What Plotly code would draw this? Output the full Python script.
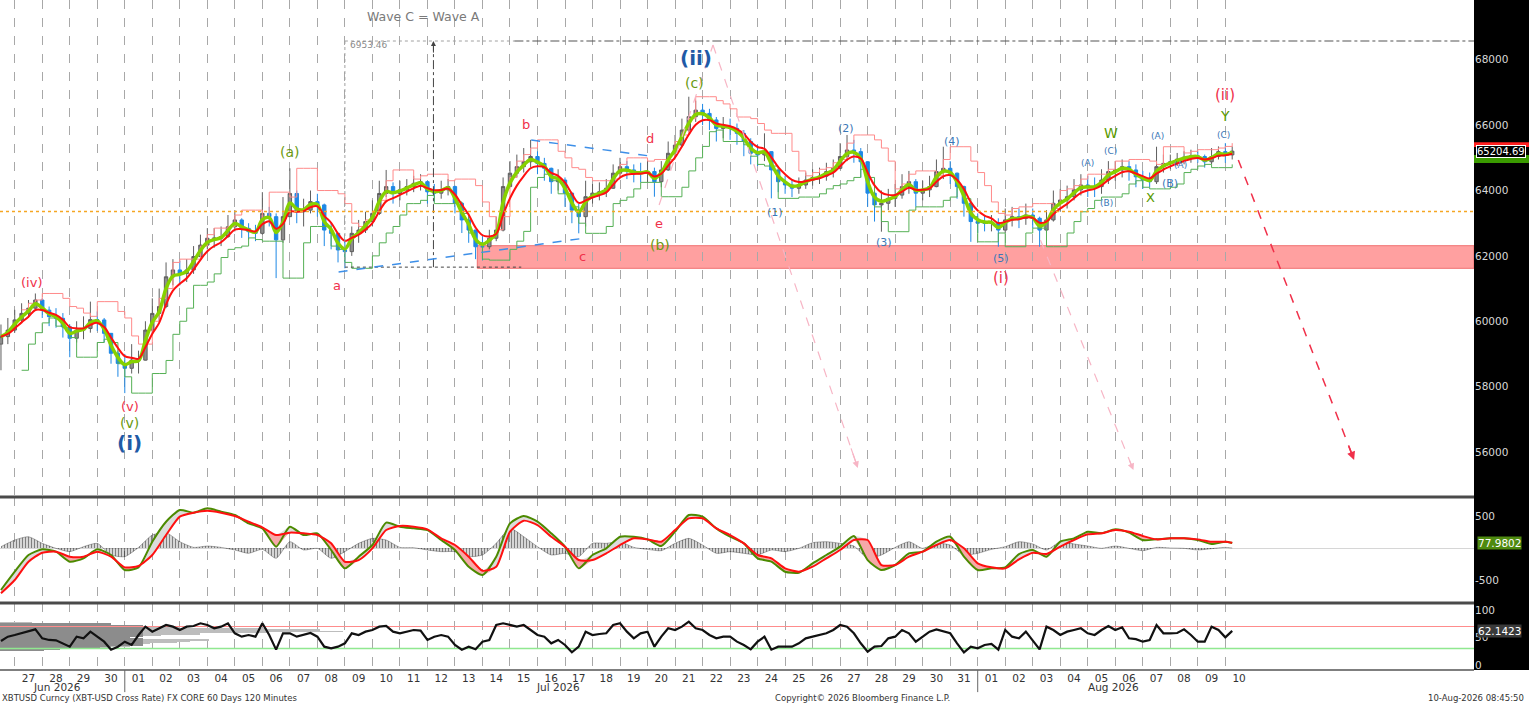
import numpy as np
import pandas as pd
import plotly.graph_objects as go
from plotly.subplots import make_subplots

FONT = "DejaVu Sans"

# ---------------- data ----------------
# price bars sampled every 6 hours (the source uses 120-minute bars)
bar_start = "2026-06-26 12:00"
first_open = 59300
close = [
    59530, 59730,
    60040, 60240, 60400, 60650,
    60340, 60140, 60090, 59830,
    59480, 59730, 59780, 60050,
    60040, 59630, 59020, 58710,
    58560, 58810, 58810, 59730,
    60240, 60450, 61360, 61570,
    61460, 61570, 61980, 62330,
    62540, 62540, 62590, 62890,
    63100, 62840, 62740, 62690,
    63300, 63200, 62490, 63200,
    63910, 63350, 63400, 63660,
    63560, 62790, 62690, 62180,
    62130, 62690, 62790, 63050,
    63300, 63910, 64120, 63910,
    64020, 64120, 64220, 64270,
    63960, 63920, 64020, 64120,
    63610, 63100, 62790, 62280,
    62280, 62540, 62790, 64120,
    64530, 64730, 64880, 65040,
    64830, 64680, 64270, 64320,
    63920, 63400, 63200, 63810,
    63920, 63960, 64070, 64530,
    64730, 64630, 64530, 64530,
    64580, 64270, 64630, 65140,
    65390, 65850, 66260, 66460,
    66360, 66160, 65900, 65950,
    65900, 65750, 65500, 65140,
    65090, 65190, 64630, 64270,
    64170, 64070, 64170, 64320,
    64400, 64440, 64580, 64680,
    65040, 65240, 65190, 64880,
    63920, 63560, 63610, 63760,
    63860, 64120, 64270, 63920,
    64020, 64120, 64580, 64680,
    64530, 64120, 63610, 63050,
    63000, 63000, 63020, 62790,
    63100, 63200, 63150, 63250,
    63150, 62790, 63100, 63610,
    63710, 63810, 64020, 64170,
    64120, 64120, 64320, 64580,
    64630, 64730, 64630, 64420,
    64320, 64270, 64730, 64830,
    64880, 64960, 65020, 65060,
    65040, 64880, 65040, 65190,
    65090, 65205,
]
high = [
    59900, 60100,
    60350, 60550, 60650, 60850,
    60700, 60450, 60400, 60250,
    59900, 60000, 60150, 60600,
    60300, 60100, 59550, 59100,
    59000, 59300, 59100, 60000,
    60700, 61000, 61800, 61900,
    61850, 61900, 62300, 62650,
    62850, 62850, 62900, 63250,
    63400, 63150, 63000, 62950,
    63950, 63500, 63300, 63800,
    64680, 64000, 63750, 64000,
    63900, 63600, 63000, 62700,
    62500, 62900, 63100, 63350,
    63700, 64300, 64630, 64250,
    64300, 64350, 64450, 64500,
    64300, 64200, 64300, 64350,
    64150, 63650, 63200, 62800,
    62600, 62800, 63200, 64400,
    64900, 65100, 65300, 65550,
    65200, 65000, 64700, 64650,
    64400, 63900, 63600, 64300,
    64200, 64250, 64350, 64800,
    65000, 64900, 64800, 64850,
    64950, 64700, 64900, 65500,
    65700, 66200, 66870, 66750,
    66650, 66500, 66250, 66250,
    66200, 66050, 65850, 65600,
    65400, 65750, 65200, 64600,
    64450, 64350, 64400, 64550,
    64650, 64700, 64850, 64950,
    65450, 65700, 65550, 65300,
    64900, 63950, 64000, 64050,
    64200, 64500, 64600, 64350,
    64300, 64450, 64950, 65340,
    64900, 64550, 64150, 63650,
    63300, 63250, 63250, 63150,
    63450, 63500, 63450, 63600,
    63450, 63200, 63400, 64000,
    64050, 64150, 64350, 64500,
    64450, 64400, 64650, 64900,
    64900, 64950, 64900, 64800,
    64600, 64550, 65340, 65100,
    65100, 65150, 65200, 65250,
    65200, 65100, 65300, 65350,
    65450, 65350,
]
low = [
    58500, 59300,
    59650, 59950, 60100, 60350,
    60100, 59850, 59800, 59500,
    58900, 59350, 59450, 59650,
    59700, 59350, 58700, 58300,
    57800, 58400, 58400, 58800,
    59600, 60000, 60400, 61100,
    61100, 61200, 61450, 61950,
    62200, 62250, 62300, 62550,
    62750, 62550, 62500, 62450,
    62650, 62900, 61320, 62400,
    63200, 63000, 62900, 63300,
    63200, 62300, 62200, 61800,
    61620, 62000, 62400, 62700,
    62900, 63250, 63800, 63600,
    63700, 63850, 63950, 64000,
    63600, 63650, 63750, 63850,
    63300, 62700, 62400, 61900,
    61870, 62200, 62450, 62750,
    64100, 64400, 64550, 64700,
    64500, 64300, 63900, 64000,
    63500, 63000, 62690, 62900,
    63600, 63700, 63800, 64050,
    64400, 64350, 64250, 64250,
    64250, 63810, 64100, 64600,
    65000, 65350, 65800, 66100,
    66000, 65850, 65500, 65600,
    65550, 65400, 65050, 64800,
    64750, 64900, 63760, 63950,
    63900, 63800, 63900, 64050,
    64150, 64200, 64300, 64400,
    64650, 64900, 64850, 64400,
    63500, 63050, 62740, 63400,
    63500, 63750, 63900, 63500,
    63700, 63800, 64100, 64350,
    64200, 63750, 63200, 62430,
    62700, 62750, 62750, 62280,
    62700, 62900, 62850, 62950,
    62850, 62280, 62700, 63050,
    63350, 63450, 63700, 63850,
    63800, 63800, 63900, 64200,
    64300, 64400, 64300, 64100,
    64050, 64100, 64200, 64550,
    64650, 64750, 64800, 64850,
    64850, 64700, 64800, 64950,
    64850, 64950,
]

# oscillator panel, sampled every 12 hours (last point 2026-08-10 06:00)
macd_start = "2026-06-26 12:00"
macd_last_time = "2026-08-10 06:00"
macd_line = [
    -656,
    -370, -109, -21, -57, -214, -161, -21, -109,
    -344, -302, 99, 411, 594, 552, 620, 568, 516, 385,
    307, 21, 333, 203, 229, -31, -318, -135, 47, 396,
    333, 307, 281, 125, -31, -292, -420, -135, 385, 500,
    411, 229, 21, -318, -109, -5, 177, 177, 135, 31,
    255, 516, 490, 307, 177, 73, -161, -214, -370, -385,
    -240, -109, 21, 188, -188, -344, -266, -83, -57, 99,
    177, -135,
    -344, -318, -302, -94, -31, -135, 99, 151, 255, 229,
    292, 240, 125, 135, 151, 151, 125, 63,
    99, 78,
]
signal_line = [
    -708,
    -500, -214, -73, -57, -135, -135, -57, -135,
    -302, -281, -109, 203, 490, 552, 583, 552, 500, 411,
    323, 203, 240, 229, 203, 73, -214, -188, -5, 281,
    344, 333, 292, 151, 47, -135, -355, -292, 255, 427,
    359, 177, 21, -188, -188, -83, 47, 151, 135, 99,
    281, 464, 464, 307, 203, 73, -109, -161, -318, -370,
    -292, -161, -31, 125, 125, -266, -266, -135, -57, 47,
    125, -5,
    -240, -302, -318, -177, -73, -94, 21, 125, 214, 229,
    281, 255, 188, 135, 151, 151, 135, 99,
    99, 83,
]
macd_hist = [
    21,
    125, 177, 73, -5, -57, 21, 73, -109,
    -135, 10, 203, 240, 99, 10, 31, 10, -31, -83,
    -21, -161, 99, -31, -5, -161, -57, 73, 151, 125,
    10, 5, -31, -57, -57, -135, -109, 73, 307, 177,
    21, -109, -83, -135, 73, 73, 99, 10, -21, -42,
    73, 151, 47, -83, -57, -83, -109, -31, -57, -5,
    83, 99, 73, 31, -161, -109, 10, 99, -5, 73,
    47, -109,
    -83, -21, 21, 99, 63, -31, 99, 63, 31, -5,
    31, -5, -42, 10, 0, -5, -31, -10,
    10, 0,
]

# RSI, same 6-hour sampling as the price bars
rsi = [
    43.6, 51.5,
    54.5, 57.6, 60.6, 64.8,
    48.5, 45.5, 44.8, 39.4,
    33.3, 51.5, 48.5, 60.6,
    51.5, 42.4, 27.9, 33.3,
    42.4, 36.4, 54.5, 69.7,
    60.6, 66.7, 72.7, 69.7,
    63.6, 69.7, 70.9, 75.8,
    72.7, 66.7, 69.7, 75.8,
    57.6, 51.5, 54.5, 51.5,
    75.8, 54.5, 27.9, 57.6,
    57.6, 51.5, 54.5, 58.2,
    51.5, 33.3, 30.3, 33.3,
    39.4, 57.6, 54.5, 60.6,
    63.6, 69.7, 70.9, 60.6,
    57.6, 60.6, 63.6, 62.4,
    45.5, 51.5, 54.5, 51.5,
    36.4, 27.9, 33.3, 28.5,
    42.4, 45.5, 72.7, 75.8,
    72.7, 69.7, 72.7, 63.6,
    54.5, 51.5, 39.4, 45.5,
    36.4, 23.0, 33.3, 60.6,
    54.5, 56.4, 57.6, 72.7,
    75.8, 60.6, 48.5, 57.6,
    60.6, 33.3, 51.5, 66.7,
    63.6, 69.7, 78.8, 66.7,
    63.6, 54.5, 48.5, 51.5,
    51.5, 42.4, 36.4, 28.5,
    42.4, 51.5, 27.9, 33.3,
    33.3, 33.3, 39.4, 48.5,
    51.5, 54.5, 57.6, 63.6,
    72.7, 69.7, 57.6, 39.4,
    24.2, 33.3, 34.5, 48.5,
    51.5, 63.6, 57.6, 42.4,
    51.5, 60.6, 64.8, 60.6,
    57.6, 39.4, 23.0, 33.3,
    30.3, 36.4, 38.2, 27.9,
    63.6, 51.5, 48.5, 60.6,
    45.5, 28.5, 69.7, 63.6,
    54.5, 60.6, 63.6, 66.7,
    57.6, 54.5, 63.6, 70.9,
    63.6, 68.5, 48.5, 47.0,
    42.4, 45.5, 72.7, 57.6,
    57.6, 58.2, 64.8, 54.5,
    42.4, 42.4, 69.7, 63.6,
    50.3, 62.1,
]

# horizontal profile drawn in the RSI panel (length in % of panel width)
profile_levels = [77, 75, 73, 71, 69, 67, 65, 63, 61, 59, 57, 55, 53,
                  51, 49, 47, 45, 43, 41, 39, 37, 35, 33, 31, 29, 27]
profile_total = [2.2, 7.5, 7.5, 9.7, 10.2, 12.2, 18.1, 21.7, 23.3, 18.1, 13.6, 10.9, 9.7,
                 8.8, 8.1, 9.7, 14.2, 12.9, 12.0, 10.2, 9.7, 8.8, 7.5, 5.3, 4.1, 3.0]
profile_core = [0, 7.5, 7.5, 9.7, 9.7, 9.7, 9.7, 9.7, 9.7, 9.7, 9.7, 9.7, 9.7,
                8.8, 8.1, 9.7, 9.7, 9.7, 9.7, 9.7, 9.7, 7.5, 6.8, 5.3, 4.1, 3.0]

last_price = 65204.69
last_macd = 77.9802
last_rsi = 62.1423

price_ticks = [56000, 58000, 60000, 62000, 64000, 66000, 68000]
macd_ticks = [500, -500]
rsi_ticks = [100, 50, 0]
rsi_upper, rsi_lower = 70, 30

support_low, support_high = 61620, 62312
pivot_level = 63356
wave_target = 68575
wave_base = 61656

# ---------------- derived series ----------------
bar_times = pd.date_range(bar_start, periods=len(close), freq="6h")
opens = [first_open] + close[:-1]
cs = pd.Series(close, dtype=float)
ema_fast = cs.ewm(span=2, adjust=False).mean()
ema_slow = cs.ewm(span=4, adjust=False).mean()
upper_band = pd.Series(high, dtype=float).rolling(3).max().shift(1)
lower_band = pd.Series(low, dtype=float).rolling(3).min().shift(1)

macd_times = list(pd.date_range(macd_start, periods=len(macd_line) - 1, freq="12h")) + [pd.Timestamp(macd_last_time)]
g = np.array(macd_line, dtype=float)
r = np.array(signal_line, dtype=float)
g_above = np.maximum(g, r)
g_below = np.minimum(g, r)

X0, X1 = "2026-06-26 11:09", "2026-08-19 00:55"
midnights = pd.date_range("2026-06-27", "2026-08-10", freq="D")
noons = midnights + pd.Timedelta(hours=12)
day_text = [d.strftime("%d") for d in midnights]

# ---------------- figure ----------------
fig = make_subplots(rows=3, cols=1, shared_xaxes=True, vertical_spacing=0,
                    row_heights=[497, 106, 67])

# analyst drawings (row 1)
drawings = [
    ("2026-07-09 00:00", wave_target, "2026-07-15 03:50", wave_target, "#a0a0a0", "dot", 1),
    ("2026-07-15 03:50", wave_target, X1, wave_target, "#555555", "dashdot", 1.2),
    ("2026-07-09 00:00", wave_target, "2026-07-09 00:00", wave_base, "#a0a0a0", "dot", 1),
    ("2026-07-12 05:15", wave_base, "2026-07-12 05:15", wave_target, "#444444", "dashdot", 1),
    ("2026-07-09 00:00", wave_base, "2026-07-15 09:50", wave_base, "#444444", "dot", 1),
    ("2026-07-08 18:30", 61507, "2026-07-17 16:45", 62541, "#3d8fe8", "dash", 1.5),
    ("2026-07-15 18:30", 65545, "2026-07-20 02:10", 65056, "#3d8fe8", "dash", 1.5),
    ("2026-07-20 10:05", 63557, "2026-07-22 09:05", 68453, "#f7b5c5", "dash", 1.2),
]
arrows = [
    ("2026-07-22 09:05", 68453, "2026-07-27 15:25", 55510, "#f7b5c5", 1.2),
    ("2026-08-03 06:45", 62483, "2026-08-06 15:50", 55445, "#f7b5c5", 1.2),
    ("2026-08-10 11:20", 64937, "2026-08-14 16:20", 55757, "#f0304a", 1.5),
]

fig.add_trace(go.Candlestick(
    x=bar_times, open=opens, high=high, low=low, close=close,
    increasing=dict(line=dict(color="#5e5e5e", width=1), fillcolor="#8e8e8e"),
    decreasing=dict(line=dict(color="#1e88e5", width=1), fillcolor="#1e88e5"),
    whiskerwidth=0, showlegend=False, hoverinfo="skip"), row=1, col=1)

fig.add_trace(go.Scatter(x=bar_times, y=upper_band, mode="lines", line_shape="hv",
                         line=dict(color="#ff8a8a", width=1), hoverinfo="skip"), row=1, col=1)
fig.add_trace(go.Scatter(x=bar_times, y=lower_band, mode="lines", line_shape="hv",
                         line=dict(color="#55b055", width=1), hoverinfo="skip"), row=1, col=1)
fig.add_trace(go.Scatter(x=bar_times, y=ema_fast, mode="lines", line_shape="spline",
                         line=dict(color="#86d100", width=3.5), hoverinfo="skip"), row=1, col=1)
fig.add_trace(go.Scatter(x=bar_times, y=ema_slow, mode="lines", line_shape="spline",
                         line=dict(color="#ff1010", width=2), hoverinfo="skip"), row=1, col=1)

for t1, p1, t2, p2, col, dash, w in drawings:
    fig.add_trace(go.Scatter(x=[t1, t2], y=[p1, p2], mode="lines",
                             line=dict(color=col, dash=dash, width=w), hoverinfo="skip"), row=1, col=1)
for t1, p1, t2, p2, col, w in arrows:
    fig.add_trace(go.Scatter(x=[t1, t2], y=[p1, p2], mode="lines",
                             line=dict(color=col, dash="dash", width=w), hoverinfo="skip"), row=1, col=1)

# MACD panel (row 2)
SPL = dict(shape="spline", smoothing=0.6)
fig.add_trace(go.Scatter(x=macd_times, y=macd_hist, mode="lines",
                         line=dict(color="rgba(0,0,0,0.6)", width=0.5, **SPL), fill="tozeroy",
                         fillcolor="rgba(0,0,0,0)",
                         fillpattern=dict(shape="|", fgcolor="#000000", size=3, solidity=0.55),
                         hoverinfo="skip"), row=2, col=1)
fig.add_trace(go.Scatter(x=macd_times, y=r, mode="lines", line=dict(width=0, color="rgba(0,0,0,0)", **SPL),
                         hoverinfo="skip"), row=2, col=1)
fig.add_trace(go.Scatter(x=macd_times, y=g_above, mode="lines", line=dict(width=0, color="rgba(0,0,0,0)", **SPL),
                         fill="tonexty", fillcolor="#dcdcdc", hoverinfo="skip"), row=2, col=1)
fig.add_trace(go.Scatter(x=macd_times, y=r, mode="lines", line=dict(width=0, color="rgba(0,0,0,0)", **SPL),
                         hoverinfo="skip"), row=2, col=1)
fig.add_trace(go.Scatter(x=macd_times, y=g_below, mode="lines", line=dict(width=0, color="rgba(0,0,0,0)", **SPL),
                         fill="tonexty", fillcolor="#f6a8a8", hoverinfo="skip"), row=2, col=1)
fig.add_trace(go.Scatter(x=macd_times, y=g, mode="lines", line=dict(color="#4c8a00", width=2, **SPL),
                         hoverinfo="skip"), row=2, col=1)
fig.add_trace(go.Scatter(x=macd_times, y=r, mode="lines", line=dict(color="#ff1010", width=2, **SPL),
                         hoverinfo="skip"), row=2, col=1)

# RSI panel (row 3): profile on an overlay axis (x4), RSI line on a second overlay (x5) above it
fig.add_trace(go.Bar(x=profile_total, y=profile_levels, orientation="h", width=1.6,
                     marker=dict(color="#bdbdbd", line=dict(width=0)),
                     xaxis="x4", yaxis="y3", hoverinfo="skip"))
fig.add_trace(go.Bar(x=profile_core, y=profile_levels, orientation="h", width=2.0,
                     marker=dict(color="#8c8c8c", line=dict(width=0)),
                     xaxis="x4", yaxis="y3", hoverinfo="skip"))
fig.add_trace(go.Scatter(x=[X0, X1], y=[rsi_upper, rsi_upper], mode="lines",
                         line=dict(color="#ff8c8c", width=1.2), xaxis="x5", yaxis="y3", hoverinfo="skip"))
fig.add_trace(go.Scatter(x=[X0, X1], y=[rsi_lower, rsi_lower], mode="lines",
                         line=dict(color="#90e890", width=1.5), xaxis="x5", yaxis="y3", hoverinfo="skip"))
fig.add_trace(go.Scatter(x=bar_times, y=rsi, mode="lines", line=dict(color="#111111", width=2.2),
                         xaxis="x5", yaxis="y3", hoverinfo="skip"))

# shapes
shapes = [
    dict(type="rect", xref="paper", yref="paper", x0=1.0, x1=1.04, y0=0, y1=1,
         fillcolor="black", line=dict(width=0), layer="below"),
    dict(type="rect", xref="x", yref="y", x0="2026-07-13 19:30", x1=X1, y0=support_low, y1=support_high,
         fillcolor="#ffa0a0", line=dict(color="#f07070", width=1), layer="below"),
    dict(type="line", xref="x", yref="y", x0=X0, x1=X1, y0=pivot_level, y1=pivot_level,
         line=dict(color="#f5a623", dash="dot", width=1.5)),
    dict(type="line", xref="paper", yref="paper", x0=0, x1=1, y0=(670 - 497) / 670,
         y1=(670 - 497) / 670, line=dict(color="#4a4a4a", width=3)),
    dict(type="line", xref="paper", yref="paper", x0=0, x1=1, y0=(670 - 603) / 670, y1=(670 - 603) / 670,
         line=dict(color="#4a4a4a", width=3)),
    dict(type="line", xref="paper", yref="paper", x0=0, x1=1, y0=0, y1=0,
         line=dict(color="#555555", width=1.5)),
    dict(type="line", xref="x3", yref="paper", x0="2026-07-01", x1="2026-07-01", y0=0, y1=-0.033,
         line=dict(color="#666666", width=1)),
    dict(type="line", xref="x3", yref="paper", x0="2026-08-01", x1="2026-08-01", y0=0, y1=-0.033,
         line=dict(color="#666666", width=1)),
    dict(type="rect", xref="paper", yref="y", x0=1.0, x1=1.04, y0=65330, y1=65480,
         fillcolor="#ff2020", line=dict(width=0)),
    dict(type="rect", xref="paper", yref="y", x0=1.0, x1=1.04, y0=64840, y1=65085,
         fillcolor="#3a9a00", line=dict(width=0)),
]
for s in shapes:
    fig.add_shape(**s)

RED = "#f0304a"
OLIVE = "#6a9a10"
GRN = "#5a9a00"
BLUE = "#1f5aa6"
LBLUE = "#3a78b8"
labels = [
    ("(iv)", "2026-06-27 15:00", 61201, RED, 13),
    ("(v)", "2026-07-01 04:20", 57406, RED, 13),
    ("(v)", "2026-07-01 04:20", 56886, OLIVE, 14),
    ("<b>(i)</b>", "2026-07-01 04:20", 56274, BLUE, 20),
    ("(a)", "2026-07-06 23:45", 65179, OLIVE, 14),
    ("a", "2026-07-08 17:30", 61109, RED, 13),
    ("b", "2026-07-15 14:10", 66035, RED, 13),
    ("c", "2026-07-17 15:00", 61996, RED, 13),
    ("d", "2026-07-20 02:10", 65607, RED, 13),
    ("e", "2026-07-20 10:05", 62976, RED, 13),
    ("(b)", "2026-07-20 10:40", 62333, OLIVE, 14),
    ("<b>(ii)</b>", "2026-07-21 18:15", 68055, BLUE, 20),
    ("(c)", "2026-07-21 16:35", 67290, OLIVE, 14),
    ("(1)", "2026-07-24 15:05", 63343, LBLUE, 11),
    ("(2)", "2026-07-27 05:00", 65913, LBLUE, 11),
    ("(3)", "2026-07-28 14:05", 62425, LBLUE, 11),
    ("(4)", "2026-07-31 01:15", 65515, LBLUE, 11),
    ("(5)", "2026-08-01 19:55", 61935, LBLUE, 11),
    ("(i)", "2026-08-01 19:55", 61323, RED, 15),
    ("(A)", "2026-08-04 23:45", 64842, LBLUE, 9),
    ("(C)", "2026-08-05 19:50", 65209, LBLUE, 9),
    ("W", "2026-08-05 19:50", 65760, GRN, 14),
    ("(B)", "2026-08-05 16:20", 63618, LBLUE, 9),
    ("(A)", "2026-08-07 12:45", 65668, LBLUE, 9),
    ("(A)", "2026-08-08 08:50", 64781, LBLUE, 9),
    ("(B)", "2026-08-08 00:00", 64200, LBLUE, 11),
    ("X", "2026-08-07 06:40", 63802, GRN, 13),
    ("(C)", "2026-08-09 22:20", 65699, LBLUE, 9),
    ("Y", "2026-08-10 00:00", 66281, GRN, 14),
    ("(ii)", "2026-08-10 00:00", 66923, RED, 15),
]
ann = []
for txt, t, p, col, size in labels:
    ann.append(dict(text=txt, x=t, y=p, xref="x", yref="y", showarrow=False,
                    font=dict(family=FONT, size=size, color=col), xanchor="center", yanchor="middle"))

ann.append(dict(text="Wave C = Wave A", x="2026-07-11 20:25", y=69310, xref="x", yref="y", showarrow=False,
                font=dict(family=FONT, size=12.5, color="#7a7a7a")))
ann.append(dict(text="6953.46", x="2026-07-09 20:35", y=68453, xref="x", yref="y", showarrow=False,
                font=dict(family=FONT, size=9, color="#8a8a8a")))
ann.append(dict(text="", x="2026-07-12 05:15", y=wave_target, ax="2026-07-12 05:15", ay=wave_target - 400,
                xref="x", yref="y", axref="x", ayref="y", showarrow=True, arrowhead=2,
                arrowsize=1, arrowwidth=1, arrowcolor="#444444"))
for t1, p1, t2, p2, col, w in arrows:
    ta, tb = pd.Timestamp(t1), pd.Timestamp(t2)
    tback = tb - (tb - ta) * 0.05
    pback = p2 - (p2 - p1) * 0.05
    ann.append(dict(text="", x=tb, y=p2, ax=tback, ay=pback, xref="x", yref="y", axref="x", ayref="y",
                    showarrow=True, arrowhead=2, arrowsize=1.1, arrowwidth=w, arrowcolor=col))

# right-hand value tags
ann.append(dict(text=f"{last_price:.2f}", x=1.0, y=last_price, xref="paper", yref="y", xanchor="left",
                xshift=2, showarrow=False, bgcolor="black", bordercolor="white", borderwidth=1, borderpad=0,
                font=dict(family=FONT, size=10, color="white")))
ann.append(dict(text=f"{last_macd:.4f}", x=1.0, y=last_macd, xref="paper", yref="y2", xanchor="left",
                xshift=3, showarrow=False, bgcolor="#4f8a10", borderpad=0,
                font=dict(family=FONT, size=10.5, color="white")))
ann.append(dict(text=f"{last_rsi:.4f}", x=1.0, y=last_rsi, xref="paper", yref="y3", xanchor="left",
                xshift=3, showarrow=False, bgcolor="#3a3a3a", borderpad=0,
                font=dict(family=FONT, size=10.5, color="white")))

# month labels and footer
for txt, t in [("Jun 2026", "2026-06-28 12:45"), ("Jul 2026", "2026-07-16 18:00"), ("Aug 2026", "2026-08-05 22:20")]:
    ann.append(dict(text=txt, x=t, y=(670 - 687) / 670, xref="x3", yref="paper", showarrow=False,
                    font=dict(family=FONT, size=10.5, color="#333333"), yanchor="middle"))
ann.append(dict(text="XBTUSD Curncy (XBT-USD Cross Rate) FX CORE 60 Days 120 Minutes", x=0, xanchor="left",
                y=(670 - 698) / 670, xref="paper", yref="paper", showarrow=False, yanchor="middle",
                font=dict(family=FONT, size=8.5, color="#333333")))
ann.append(dict(text="Copyright© 2026 Bloomberg Finance L.P.", x=862 / 1474, xanchor="center",
                y=(670 - 698) / 670, xref="paper", yref="paper", showarrow=False, yanchor="middle",
                font=dict(family=FONT, size=8.5, color="#333333")))
ann.append(dict(text="10-Aug-2026 08:45:50", x=1526 / 1474, xanchor="right",
                y=(670 - 698) / 670, xref="paper", yref="paper", showarrow=False, yanchor="middle",
                font=dict(family=FONT, size=8.5, color="#333333")))

fig.update_layout(
    width=1529, height=703, autosize=False,
    margin=dict(l=0, r=55, t=0, b=33),
    paper_bgcolor="white", plot_bgcolor="white",
    showlegend=False, hovermode=False, barmode="overlay", bargap=0,
    annotations=ann,
    font=dict(family=FONT, size=11, color="#333333"),
)
fig.update_xaxes(type="date", range=[X0, X1], rangeslider_visible=False, showgrid=False, zeroline=False,
                 showline=False, ticks="",
                 minor=dict(tickmode="array", tickvals=list(midnights), showgrid=True,
                            gridcolor="#a8a8a8", griddash="dash", gridwidth=1, ticks=""))
fig.update_xaxes(row=3, col=1, tickmode="array", tickvals=list(noons), ticktext=day_text,
                 tickfont=dict(family=FONT, size=10.5, color="#333333"), showticklabels=True)
tick_font = dict(family=FONT, size=10.5, color="#d8d8d8")
fig.update_yaxes(row=1, col=1, side="right", range=[54622, 69830], tickmode="array", tickvals=price_ticks,
                 ticktext=[str(v) for v in price_ticks],
                 showgrid=False, zeroline=False, ticks="", tickfont=tick_font)
fig.update_yaxes(row=2, col=1, side="right", range=[-859, 797], tickmode="array", tickvals=macd_ticks,
                 ticktext=[str(v) for v in macd_ticks],
                 showgrid=False, zeroline=True, zerolinecolor="#d6d6d6", zerolinewidth=1,
                 ticks="", tickfont=tick_font)
fig.update_yaxes(row=3, col=1, side="right", range=[-9.1, 112.7], tickmode="array", tickvals=rsi_ticks,
                 ticktext=[str(v) for v in rsi_ticks],
                 showgrid=False, zeroline=False, ticks="", tickfont=tick_font)
# overlay axes for the RSI panel (set last so the shared date settings above do not touch them)
fig.layout.xaxis4 = dict(overlaying="x3", anchor="y3", type="linear", range=[0, 100], visible=False,
                         fixedrange=True, showgrid=False)
fig.layout.xaxis5 = dict(overlaying="x3", anchor="y3", type="date", range=[X0, X1], visible=False,
                         fixedrange=True, showgrid=False)

fig.write_html("out.html", config={"displayModeBar": False},
               post_script="document.body.style.margin='0';document.body.style.padding='0';")
